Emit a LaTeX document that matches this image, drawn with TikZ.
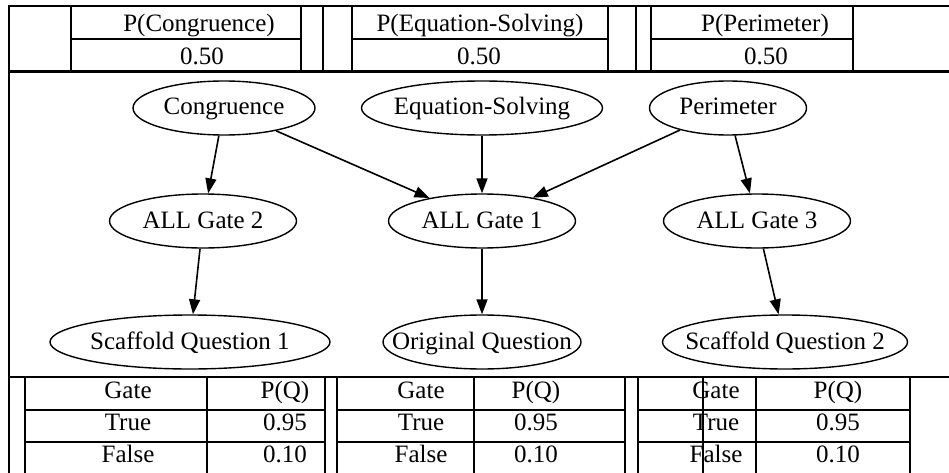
\documentclass[tikz,border=0pt]{standalone}
\usepackage{fontspec}
\setmainfont{Liberation Serif}
\usepackage{tikz}
\usetikzlibrary{positioning,arrows.meta,shapes.geometric}
\newcommand{\lbl}[1]{\makebox[0pt]{#1}}

\begin{document}
\begin{tikzpicture}[x=1pt,y=-1pt,
oval/.style={ellipse,draw,line width=1.4pt,inner sep=0pt,text height=18pt,text depth=4pt,minimum height=54pt,font=\fontsize{25}{30}\selectfont},
edge/.style={-{Triangle[length=15pt,width=11pt]},line width=1.6pt},
txt/.style={inner sep=0pt,anchor=base,font=\fontsize{25}{30}\selectfont},
rule/.style={line width=2pt}]

\useasboundingbox (0,0) rectangle (949,473);

% frame
\draw[rule] (9,473) -- (9,6) -- (949,6);
\draw[line width=3pt] (9,72) -- (949,72);
\draw[rule] (9,377) -- (949,377);

% prior tables
\draw[rule] (71,6) -- (71,72) (71,39) -- (301,39) (301,6) -- (301,72) (323,6) -- (323,72);
\draw[rule] (352,6) -- (352,72) (352,39) -- (608,39) (608,6) -- (608,72) (636,6) -- (636,72);
\draw[rule] (651,6) -- (651,72) (651,39) -- (853,39) (853,6) -- (853,72);

% cpt tables
\draw[rule] (25,377) -- (25,473) (207,377) -- (207,473) (325,377) -- (325,473)
  (25,410) -- (325,410) (25,442) -- (325,442);
\draw[rule] (337,377) -- (337,473) (474,377) -- (474,473) (625,377) -- (625,473)
  (337,410) -- (625,410) (337,442) -- (625,442);
\draw[rule] (638,377) -- (638,473) (703,377) -- (703,473) (756,377) -- (756,473) (910,377) -- (910,473)
  (638,410) -- (910,410) (638,442) -- (910,442);

% prior texts
\node[txt] (pcong) at (199,32) {P(Congruence)};
\node[txt] (vcong) at (202,65) {0.50};
\node[txt] (peqs) at (480,32) {P(Equation-Solving)};
\node[txt] (veqs) at (479,65) {0.50};
\node[txt] (pperi) at (765,32) {P(Perimeter)};
\node[txt] (vperi) at (766,65) {0.50};

% cpt texts
\node[txt] (g1) at (128,398) {Gate};
\node[txt] (q1) at (285,398) {P(Q)};
\node[txt] (t1) at (128,430) {True};
\node[txt] (tq1) at (285,430) {0.95};
\node[txt] (f1) at (128,462) {False};
\node[txt] (fq1) at (285,462) {0.10};
\node[txt] (g2) at (421,398) {Gate};
\node[txt] (q2) at (536,398) {P(Q)};
\node[txt] (t2) at (421,430) {True};
\node[txt] (tq2) at (536,430) {0.95};
\node[txt] (f2) at (421,462) {False};
\node[txt] (fq2) at (536,462) {0.10};
\node[txt] (g3) at (716,398) {Gate};
\node[txt] (q3) at (838,398) {P(Q)};
\node[txt] (t3) at (716,430) {True};
\node[txt] (tq3) at (838,430) {0.95};
\node[txt] (f3) at (716,462) {False};
\node[txt] (fq3) at (838,462) {0.10};

% nodes
\node[oval,minimum width=182pt] (cong) at (224,108) {\lbl{Congruence}};
\node[oval,minimum width=241pt] (eqs) at (482,108) {\lbl{Equation-Solving}};
\node[oval,minimum width=157pt] (peri) at (728,108) {\lbl{Perimeter}};
\node[oval,minimum width=187pt] (gate2) at (203,221) {\lbl{ALL Gate 2}};
\node[oval,minimum width=187pt] (gate1) at (482,221) {\lbl{ALL Gate 1}};
\node[oval,minimum width=187pt] (gate3) at (757,221) {\lbl{ALL Gate 3}};
\node[oval,minimum width=280pt] (sq1) at (190,342) {\lbl{Scaffold Question 1}};
\node[oval,minimum width=198pt] (oq) at (482,342) {\lbl{Original Question}};
\node[oval,minimum width=245pt] (sq2) at (785,342) {\lbl{Scaffold Question 2}};

% edges
\draw[edge] (cong) -- (gate2);
\draw[edge] (cong) -- (gate1);
\draw[edge] (eqs) -- (gate1);
\draw[edge] (peri) -- (gate1);
\draw[edge] (peri) -- (gate3);
\draw[edge] (gate2) -- (sq1);
\draw[edge] (gate1) -- (oq);
\draw[edge] (gate3) -- (sq2);

\end{tikzpicture}
\end{document}
